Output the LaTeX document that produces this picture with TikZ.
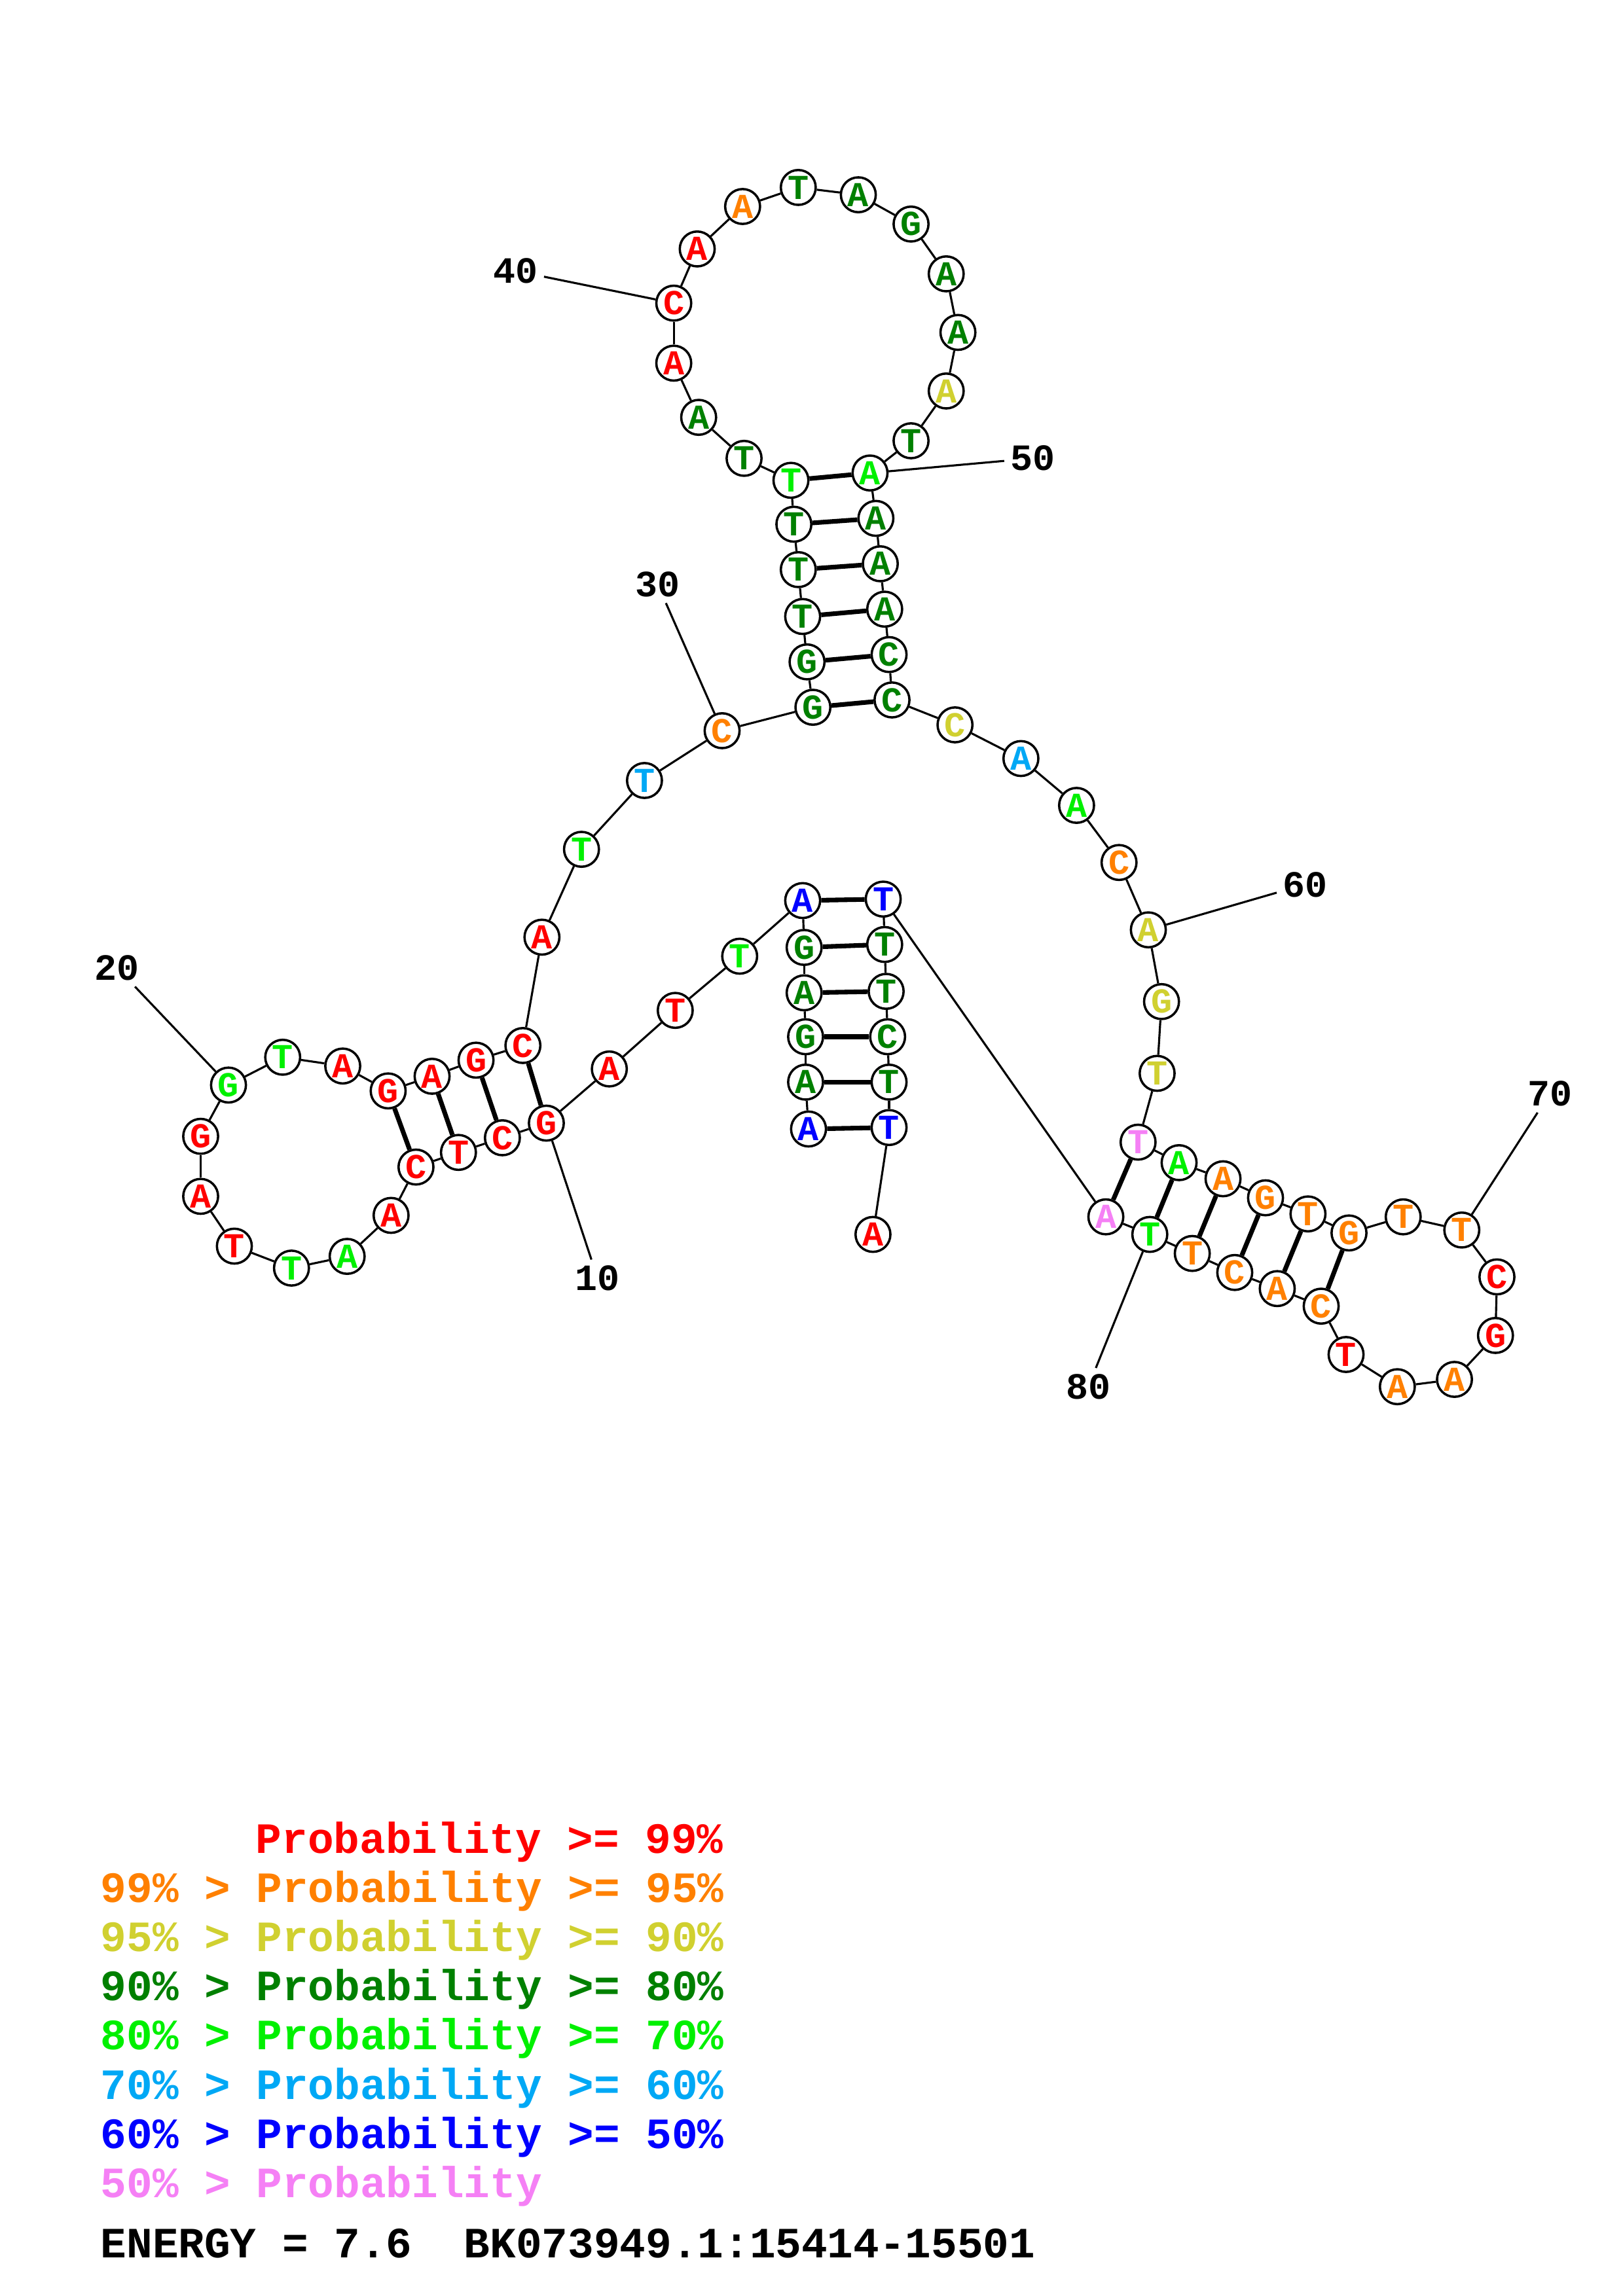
\documentclass[tikz,border=0pt]{standalone}
\usepackage{fontspec}
\setmonofont{Liberation Mono}
\usepackage{tikz}

\definecolor{pRed}{RGB}{255,0,0}
\definecolor{pOrange}{RGB}{255,128,0}
\definecolor{pYellow}{RGB}{208,208,48}
\definecolor{pDkGreen}{RGB}{0,128,0}
\definecolor{pGreen}{RGB}{0,240,0}
\definecolor{pSky}{RGB}{0,168,245}
\definecolor{pBlue}{RGB}{0,0,255}
\definecolor{pPink}{RGB}{245,128,245}

\tikzset{
  nuc/.style = {circle, draw, line width=0.45pt, fill=white, inner sep=0pt,
                minimum size=0.238cm, font=\ttfamily\bfseries\fontsize{6.8}{7}\selectfont},
  bond/.style = {line width=0.4pt},
  pair/.style = {line width=0.9pt},
  numlabel/.style = {inner sep=1pt, font=\ttfamily\bfseries\fontsize{7.2}{8}\selectfont},
  legend/.style = {anchor=base west, inner sep=0pt, font=\ttfamily\bfseries\fontsize{8.4}{10}\selectfont}
}

\begin{document}
\begin{tikzpicture}[x = 0.01cm , y = -0.01cm]
    \useasboundingbox (0,0) rectangle (1108,1568);
    % bases: number / x / y / letter / colour
    \foreach \i/\x/\y/\b/\c in {
        1/552/771/A/pBlue, 2/550/739/A/pDkGreen, 3/550/708/G/pDkGreen, 4/549/678/A/pDkGreen,
        5/549/647/G/pDkGreen, 6/548/615/A/pBlue, 7/505/653/T/pGreen, 8/461/690/T/pRed,
        9/416/730/A/pRed, 10/373/767/G/pRed, 11/343/777/C/pRed, 12/313/787/T/pRed,
        13/284/797/C/pRed, 14/267/830/A/pRed, 15/237/858/A/pGreen, 16/199/866/T/pGreen,
        17/160/851/T/pRed, 18/137/817/A/pRed, 19/137/776/G/pRed, 20/156/741/G/pGreen,
        21/193/722/T/pGreen, 22/234/728/A/pRed, 23/265/745/G/pRed, 24/295/735/A/pRed,
        25/325/724/G/pRed, 26/357/714/C/pRed, 27/370/640/A/pRed, 28/397/580/T/pGreen,
        29/440/533/T/pSky, 30/493/499/C/pOrange, 31/555/483/G/pDkGreen, 32/551/452/G/pDkGreen,
        33/548/421/T/pDkGreen, 34/545/389/T/pDkGreen, 35/542/358/T/pDkGreen, 36/540/328/T/pGreen,
        37/508/313/T/pDkGreen, 38/477/285/A/pDkGreen, 39/460/248/A/pRed, 40/460/207/C/pRed,
        41/476/170/A/pRed, 42/507/141/A/pOrange, 43/545/128/T/pDkGreen, 44/586/133/A/pDkGreen,
        45/622/153/G/pDkGreen, 46/646/187/A/pDkGreen, 47/654/227/A/pDkGreen, 48/646/267/A/pYellow,
        49/622/301/T/pDkGreen, 50/594/323/A/pGreen, 51/598/354/A/pDkGreen, 52/601/385/A/pDkGreen,
        53/604/416/A/pDkGreen, 54/607/447/C/pDkGreen, 55/609/478/C/pDkGreen, 56/652/495/C/pYellow,
        57/697/518/A/pSky, 58/735/550/A/pGreen, 59/764/589/C/pOrange, 60/784/635/A/pYellow,
        61/793/684/G/pYellow, 62/790/733/T/pYellow, 63/777/780/T/pPink, 64/805/794/A/pGreen,
        65/835/805/A/pOrange, 66/864/818/G/pOrange, 67/893/829/T/pOrange, 68/921/842/G/pOrange,
        69/958/831/T/pOrange, 70/998/840/T/pOrange, 71/1022/872/C/pRed, 72/1021/912/G/pRed,
        73/993/942/A/pOrange, 74/954/947/A/pOrange, 75/919/925/T/pRed, 76/902/892/C/pOrange,
        77/872/880/A/pOrange, 78/843/869/C/pOrange, 79/814/856/T/pOrange, 80/785/843/T/pGreen,
        81/755/831/A/pPink, 82/603/614/T/pBlue, 83/604/645/T/pDkGreen, 84/605/677/T/pDkGreen,
        85/606/708/C/pDkGreen, 86/607/739/T/pDkGreen, 87/607/770/T/pBlue, 88/596/843/A/pRed}
        \node[nuc , text=\c] (n\i) at (\x,\y) {\b};

    % backbone
    \foreach \i [remember=\i as \last (initially 1)] in {2,...,88}
        \draw[bond] (n\last) -- (n\i);

    % base pairs
    \foreach \a/\b in {1/87, 2/86, 3/85, 4/84, 5/83, 6/82, 10/26, 11/25, 12/24, 13/23,
                       31/55, 32/54, 33/53, 34/52, 35/51, 36/50,
                       63/81, 64/80, 65/79, 66/78, 67/77, 68/76}
        \draw[pair] (n\a) -- (n\b);

    % position numbers
    \foreach \t/\x/\y in {10/408/873, 20/80/661, 30/449/399, 40/352/185,
                          50/705/313, 60/891/604, 70/1058/747, 80/743/947} {
        \node[numlabel] (l\t) at (\x,\y) {\t};
        \draw[bond] (l\t) -- (n\t);
    }

    % legend
    \node[legend , text=pRed] (leg1) at (174,1265.5) {Probability >= 99\%};
    \node[legend , text=pOrange] (leg2) at (68,1299.1) {99\% > Probability >= 95\%};
    \node[legend , text=pYellow] (leg3) at (68,1332.7) {95\% > Probability >= 90\%};
    \node[legend , text=pDkGreen] (leg4) at (68,1366.3) {90\% > Probability >= 80\%};
    \node[legend , text=pGreen] (leg5) at (68,1399.9) {80\% > Probability >= 70\%};
    \node[legend , text=pSky] (leg6) at (68,1433.5) {70\% > Probability >= 60\%};
    \node[legend , text=pBlue] (leg7) at (68,1467.1) {60\% > Probability >= 50\%};
    \node[legend , text=pPink] (leg8) at (68,1500.7) {50\% > Probability};
    \node[legend] (energy) at (68,1541.8) {ENERGY = 7.6\ \ BK073949.1:15414-15501};
\end{tikzpicture}
\end{document}
